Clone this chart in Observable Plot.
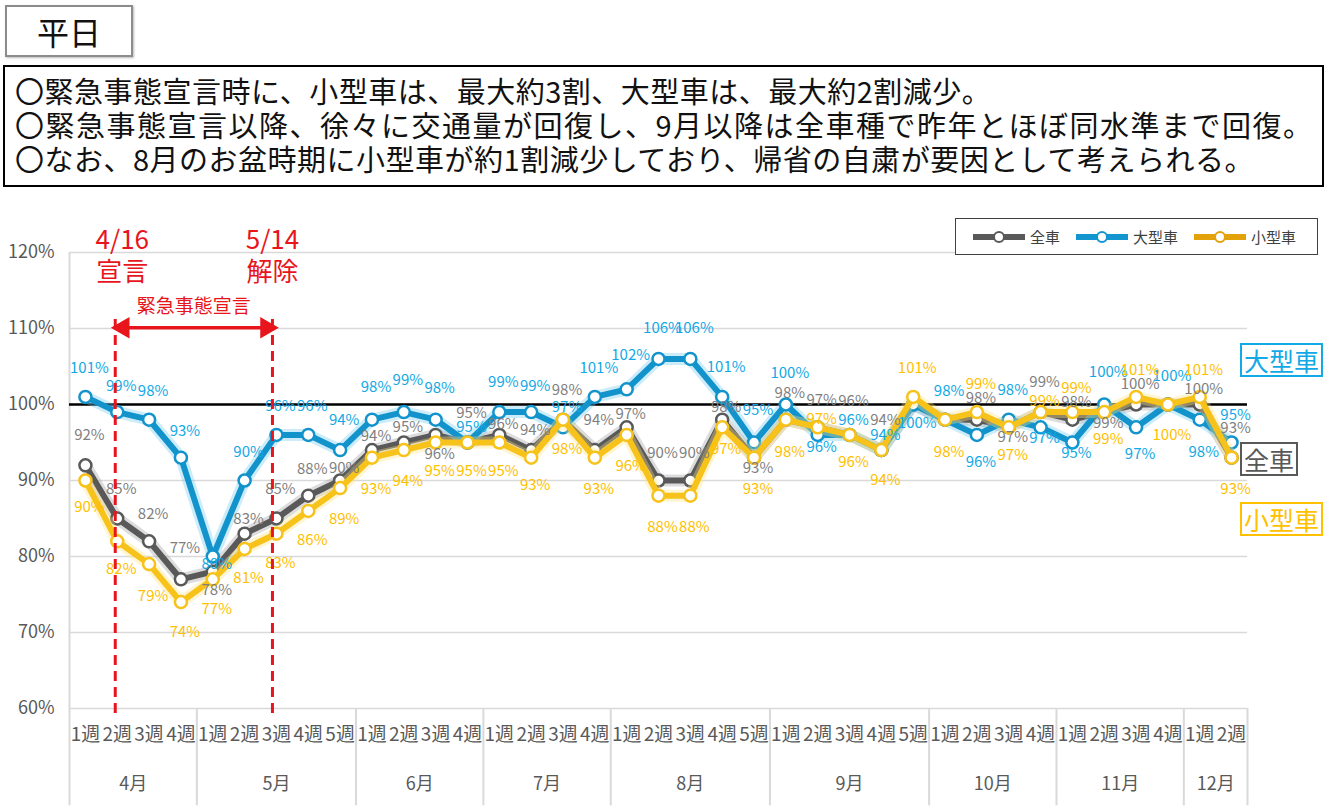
<!DOCTYPE html>
<html lang="ja">
<head>
<meta charset="utf-8">
<script src="https://cdn.jsdelivr.net/npm/d3@7"></script>
<script src="https://cdn.jsdelivr.net/npm/@observablehq/plot@0.6"></script>
<style>
  html, body { margin: 0; padding: 0; background: #fff; }
  body { width: 1330px; height: 806px; position: relative; overflow: hidden;
         font-family: "Noto Sans CJK JP", "Noto Sans", sans-serif; }
  #title { position: absolute; left: 5px; top: 5px; width: 124px; height: 48px;
           border: 2px solid #8c8c8c; box-shadow: 1px 1px 2px #bbb;
           font-size: 32px; line-height: 48px; text-align: center; color: #111; }
  #summary { position: absolute; left: 3px; top: 65px; width: 1307px; height: 112px;
             border: 2.5px solid #000; padding: 6px 0 0 10px;
             font-size: 29px; line-height: 34px; letter-spacing: 0.5px; color: #111; white-space: nowrap; }
  #summary .wide { letter-spacing: 1.5px; }
  #chart { position: absolute; left: 0; top: 195px; }
  #legend { position: absolute; left: 955px; top: 218px; width: 361px; height: 35px;
            border: 1.5px solid #404040; background: #fff; display: flex; align-items: center;
            font-size: 15px; color: #404040; }
  #legend .item { display: flex; align-items: center; }
  #legend svg { display: block; margin-right: 5px; }
  .tag { position: absolute; border: 2px solid; font-size: 25px; line-height: 30px;
         padding: 0 2px; background: #fff; white-space: nowrap; }
</style>
</head>
<body>
<div id="title">平日</div>
<div id="summary">
  <div>〇緊急事態宣言時に、小型車は、最大約3割、大型車は、最大約2割減少。</div>
  <div class="wide">〇緊急事態宣言以降、徐々に交通量が回復し、9月以降は全車種で昨年とほぼ同水準まで回復。</div>
  <div>〇なお、8月のお盆時期に小型車が約1割減少しており、帰省の自粛が要因として考えられる。</div>
</div>
<div id="chart"></div>
<div id="legend"></div>
<div class="tag" style="left:1240px;top:343px;color:#12a9e6;border-color:#12a9e6;">大型車</div>
<div class="tag" style="left:1240px;top:442px;color:#595959;border-color:#595959;">全車</div>
<div class="tag" style="left:1240px;top:502px;color:#ffc000;border-color:#ffc000;">小型車</div>
<script>
// Week labels along the axis, and how many weeks each month spans
const weekLabels = [
  "1週","2週","3週","4週",
  "1週","2週","3週","4週","5週",
  "1週","2週","3週","4週",
  "1週","2週","3週","4週",
  "1週","2週","3週","4週","5週",
  "1週","2週","3週","4週","5週",
  "1週","2週","3週","4週",
  "1週","2週","3週","4週",
  "1週","2週"
];
const months = ["4月","5月","6月","7月","8月","9月","10月","11月","12月"];
const weeksPerMonth = [4, 5, 4, 4, 5, 5, 4, 4, 2];

// Traffic volume vs. previous year (%), weekdays
const allVehicles   = [92,85,82,77,78,83,85,88,90,94,95,96,95,96,94,98,94,97,90,90,98,93,98,97,96,94,100,98,98,97,99,98,99,100,100,100,93];
const largeVehicles = [101,99,98,93,80,90,96,96,94,98,99,98,95,99,99,97,101,102,106,106,101,95,100,96,96,94,100,98,96,98,97,95,100,97,100,98,95];
const smallVehicles = [90,82,79,74,77,81,83,86,89,93,94,95,95,95,93,98,93,96,88,88,97,93,98,97,96,94,101,98,99,97,99,99,99,101,100,101,93];

// Value-label placement: positive lifts the label above its point, negative drops it below, 0 hides it
const allLabelSide = [
  1.1, 1.1, 1, 1.15, -0.7, 0.55, 1.1, 1, 0.45, 0.5,
  0.55, -0.7, 1.1, 0.4, 0.75, 1.1, 1.1, 0.5, 1, 1,
  0.45, -0.4, 1, 1, 1.25, 1.1, 0, 0, 0.8, -0.35,
  1.1, 0.65, -0.4, 0.75, 0, 0.55, 1.1
];
const largeLabelSide = [
  1.05, 0.95, 1.05, 1, -0.3, 1.05, 1.05, 1.05, 1.1, 1.2,
  1.2, 1.15, 0.55, 1.1, 0.95, 0.75, 1.05, 1.25, 1.15, 1.15,
  1.1, 1.2, 1.15, -0.45, 0.55, 0.55, -0.7, 1.05, -1, 1.1,
  -0.4, -0.4, 1.2, -1, 1.05, -1.2, 1
];
const smallLabelSide = [
  -1, -1.05, -1.2, -1.1, -1.1, -1.1, -1.1, -1.1, -1.15, -1.15,
  -1.15, -1.05, -1.05, -1.05, -1, -1.1, -1.15, -1.15, -1.15, -1.15,
  -0.8, -1.15, -1.2, 0.3, -1, -1.1, 1.05, -1.2, 1.05, -1.05,
  0.4, 0.9, -1, 1, -1.15, 1, -1.15
];

const yTicks = [60, 70, 80, 90, 100, 110, 120];

// Declaration period (week indices): 4/16 and 5/14
const declarationStart = 1;
const declarationEnd = 6;

const series = [
  {name: "全車",   values: allVehicles,   sides: allLabelSide,   color: "#595959", glow: "#9a9a9a", label: "#7f7f7f"},
  {name: "大型車", values: largeVehicles, sides: largeLabelSide, color: "#1393cc", glow: "#6cc8ef", label: "#12a9e6"},
  {name: "小型車", values: smallVehicles, sides: smallLabelSide, color: "#f7c21a", glow: "#ffe27a", label: "#ffc000"}
];

const rowsOf = s => s.values.map((v, i) => ({i, v, side: s.sides[i]}));

// Month boundaries and centres on the week index scale
const starts = d3.cumsum([0, ...weeksPerMonth]);
const boundaries = Array.from(starts, s => s - 0.5);
const monthRows = months.map((m, k) => ({m, x: (starts[k] + starts[k + 1] - 1) / 2}));

const red = "#e8161c";
const bottomEdge = 47.2;
const labelStep = 27; // px per unit of label placement

const seriesMarks = series.flatMap(s => {
  const rows = rowsOf(s);
  return [
    Plot.line(rows, {x: "i", y: "v", stroke: s.glow, strokeWidth: 12, strokeOpacity: 0.35}),
    Plot.line(rows, {x: "i", y: "v", stroke: s.color, strokeWidth: 6}),
    Plot.dot(rows, {x: "i", y: "v", r: 6, fill: "white", stroke: s.color, strokeWidth: 2.5})
  ];
});

// one text mark per distinct offset, since dy is a constant option
const labelMarks = series.flatMap(s => {
  const groups = d3.group(rowsOf(s).filter(d => d.side !== 0), d => d.side);
  return Array.from(groups, ([side, rows]) =>
    Plot.text(rows, {x: "i", y: "v", text: d => d.v + "%", dy: -side * labelStep, dx: 4, fill: s.label, fontSize: 15})
  );
});

const chart = Plot.plot({
  width: 1330,
  height: 611,
  marginLeft: 69,
  marginRight: 83,
  marginTop: 57,
  marginBottom: 98,
  style: {fontFamily: "'Noto Sans CJK JP', 'Noto Sans', sans-serif", color: "#595959", background: "transparent", overflow: "visible"},
  x: {domain: [-0.5, 36.5], axis: null},
  y: {domain: [60, 120], axis: null},
  marks: [
    Plot.gridY(yTicks, {stroke: "#d9d9d9", strokeOpacity: 1, strokeWidth: 1.5}),
    Plot.axisY(yTicks, {tickFormat: d => d + "%", tickSize: 0, tickPadding: 15, fontSize: 18, label: null}),
    // category table: left edge and month separators
    Plot.ruleX([boundaries[0]], {y1: 120, y2: bottomEdge, stroke: "#d9d9d9", strokeWidth: 2}),
    Plot.ruleX(boundaries.slice(1), {y1: 60, y2: bottomEdge, stroke: "#d9d9d9", strokeWidth: 2}),
    Plot.axisX(d3.range(weekLabels.length), {tickFormat: i => weekLabels[i], tickSize: 0, tickPadding: 19, fontSize: 19, label: null}),
    Plot.text(monthRows, {x: "x", y: () => 50.1, text: "m", fontSize: 18, fill: "#595959"}),
    // previous-year level
    Plot.ruleY([100], {x1: -0.5, x2: 36.5, stroke: "#000", strokeWidth: 2.5}),
    ...seriesMarks,
    ...labelMarks,
    // state of emergency annotation
    Plot.ruleX([declarationStart], {y1: 111.2, y2: 58.6, dx: -2, stroke: red, strokeWidth: 3, strokeDasharray: "10,6"}),
    Plot.ruleX([declarationEnd], {y1: 111.2, y2: 58.6, dx: -4, stroke: red, strokeWidth: 3, strokeDasharray: "10,6"}),
    Plot.ruleY([110.1], {x1: declarationStart, x2: declarationEnd, dx: -3, stroke: red, strokeWidth: 3.5}),
    Plot.dot([declarationStart], {x: d => d, y: () => 110.1, symbol: "triangle", rotate: -90, r: 8, dx: 6, fill: red, stroke: "none"}),
    Plot.dot([declarationEnd], {x: d => d, y: () => 110.1, symbol: "triangle", rotate: 90, r: 8, dx: -10, fill: red, stroke: "none"}),
    Plot.text(["緊急事態宣言"], {x: () => (declarationStart + declarationEnd) / 2, y: () => 112.9, text: d => d, fill: red, fontSize: 19, dx: -3}),
    Plot.text(["4/16"], {x: () => declarationStart, y: () => 121.6, text: d => d, fill: red, fontSize: 26, dx: 5}),
    Plot.text(["宣言"], {x: () => declarationStart, y: () => 117.4, text: d => d, fill: red, fontSize: 26, dx: 5}),
    Plot.text(["5/14"], {x: () => declarationEnd, y: () => 121.6, text: d => d, fill: red, fontSize: 26, dx: -4}),
    Plot.text(["解除"], {x: () => declarationEnd, y: () => 117.4, text: d => d, fill: red, fontSize: 26, dx: -4})
  ]
});
document.getElementById("chart").append(chart);

// Legend
const legendColors = {"全車": "#595959", "大型車": "#1396cf", "小型車": "#e3a20a"};
const legend = document.getElementById("legend");
series.forEach((s, k) => {
  const item = document.createElement("div");
  item.className = "item";
  item.style.marginLeft = k === 0 ? "17px" : "16px";
  const c = legendColors[s.name];
  item.innerHTML = `<svg width="52" height="14"><line x1="1" x2="51" y1="7" y2="7" stroke="${c}" stroke-width="6" stroke-linecap="round"/><circle cx="26" cy="7" r="5" fill="white" stroke="${c}" stroke-width="2"/></svg><span>${s.name}</span>`;
  legend.append(item);
});
</script>
</body>
</html>
